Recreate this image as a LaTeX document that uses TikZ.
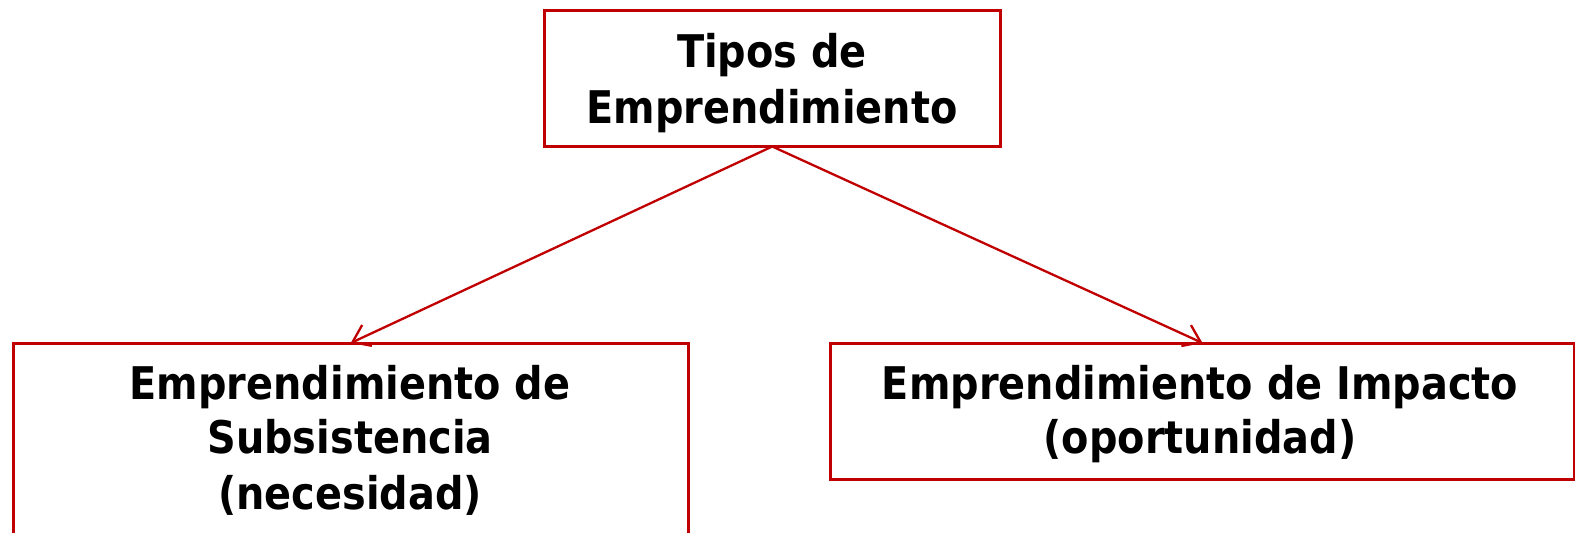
\documentclass[tikz,border=0pt]{standalone}
\usepackage{fontspec}
\setmainfont{DejaVu Sans}[FakeStretch=0.885]
\usetikzlibrary{arrows.meta}
\definecolor{boxred}{RGB}{192,0,0}
\tikzset{
  boxnode/.style={draw=boxred, line width=3pt, rectangle, inner sep=0pt, outer sep=0pt},
  txt/.style={anchor=base, inner sep=0pt, font=\fontsize{45}{56}\selectfont\bfseries},
  conn/.style={draw=boxred, line width=2.3pt, -{Straight Barb[length=16pt, width=23pt, line width=2.3pt]}}
}
\begin{document}
\begin{tikzpicture}[x=1pt, y=-1pt]
\useasboundingbox (0,0) rectangle (1575,533);
\clip (0,0) rectangle (1575,533);
\fill[white] (0,0) rectangle (1575,533);
\node[boxnode, minimum width=455.5pt, minimum height=136pt] (top) at (772.25,78.5) {};
\node[boxnode, minimum width=674.5pt, minimum height=259pt] (left) at (350.75,472.5) {};
\node[boxnode, minimum width=744pt, minimum height=136pt] (right) at (1202.5,411) {};
\node[txt] (t1) at (772,67) {Tipos de};
\node[txt] (t2) at (772,123) {Emprendimiento};
\node[txt] (l1) at (350,399) {Emprendimiento de};
\node[txt] (l2) at (350,453) {Subsistencia};
\node[txt] (l3) at (350,509) {(necesidad)};
\node[txt] (r1) at (1200,399) {Emprendimiento de Impacto};
\node[txt] (r2) at (1200,453) {(oportunidad)};
\draw[conn] (top.south) -- (left.north);
\draw[conn] (top.south) -- (right.north);
\end{tikzpicture}
\end{document}
